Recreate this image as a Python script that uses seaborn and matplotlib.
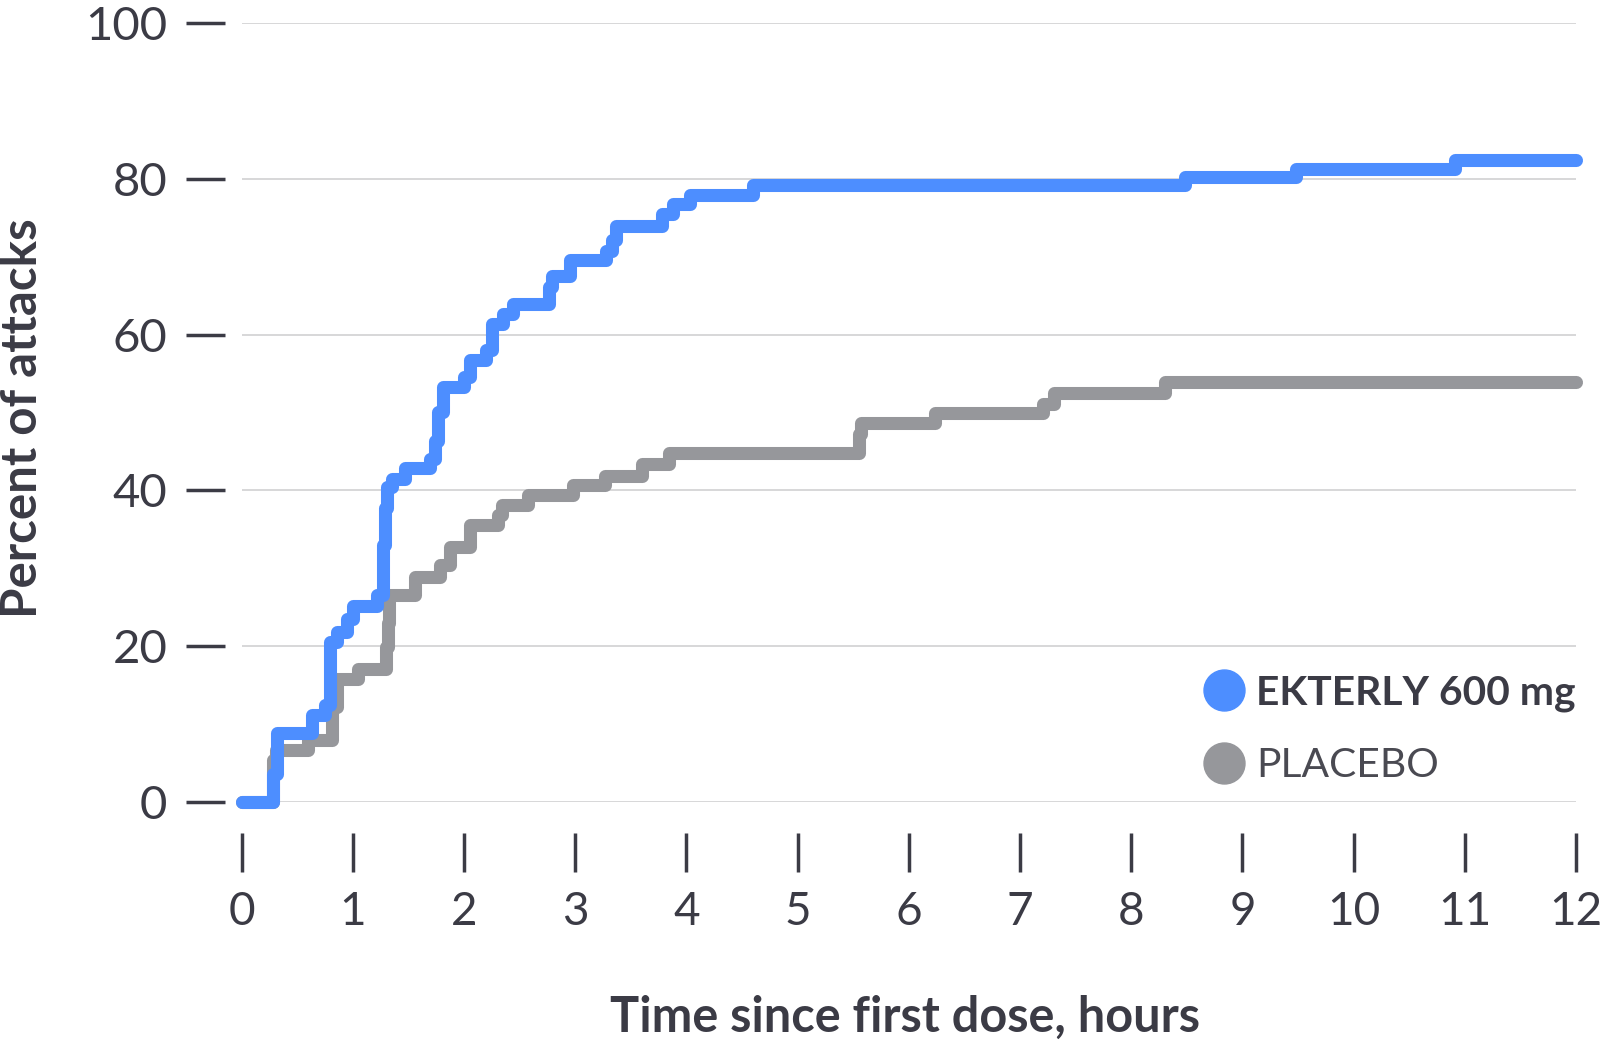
import numpy as np
import pandas as pd
import matplotlib
matplotlib.use("Agg")
import matplotlib.pyplot as plt
from matplotlib.lines import Line2D
import seaborn as sns

# Datos (paso: valor desde ese tiempo en adelante)
ekterly_t = [0, 0.285, 0.315, 0.63, 0.75, 0.795, 0.855, 0.945, 1.0, 1.215, 1.275, 1.29,
             1.305, 1.35, 1.47, 1.69, 1.735, 1.77, 1.81, 2.0, 2.05, 2.2, 2.25, 2.35, 2.44,
             2.76, 2.79, 2.95, 3.28, 3.33, 3.37, 3.78, 3.88, 4.03, 4.6, 8.48, 9.48, 10.91, 12]
ekterly_v = [0, 3.6, 8.8, 11.1, 12.4, 20.5, 21.8, 23.5, 25.2, 26.5, 33.0, 37.7,
             40.4, 41.5, 42.9, 44.0, 46.3, 50.1, 53.3, 54.6, 56.7, 58.0, 61.4, 62.7, 64.0,
             66.1, 67.6, 69.6, 70.8, 72.1, 74.0, 75.5, 76.8, 77.9, 79.2, 80.2, 81.3, 82.4, 82.4]

placebo_t = [0, 0.285, 0.31, 0.6, 0.81, 0.855, 1.05, 1.30, 1.315, 1.33, 1.56, 1.78, 1.87,
             2.05, 2.31, 2.34, 2.58, 2.98, 3.27, 3.6, 3.84, 5.55, 5.57, 6.24, 7.21, 7.31, 8.30, 12]
placebo_v = [0, 5.4, 6.6, 7.9, 12.2, 15.8, 17.1, 19.9, 23.0, 26.5, 28.9, 30.4, 32.7,
             35.5, 36.8, 38.1, 39.4, 40.7, 41.9, 43.4, 44.8, 47.3, 48.6, 49.9, 51.1, 52.5, 53.9, 53.9]

x_ticks = list(range(0, 13))
y_ticks = [0, 20, 40, 60, 80, 100]

BLUE = "#4d8eff"
GRAY = "#96979b"
TEXT = "#3b3b45"

df_ekterly = pd.DataFrame({"horas": ekterly_t, "pct": ekterly_v})
df_placebo = pd.DataFrame({"horas": placebo_t, "pct": placebo_v})

sns.set_theme(style="white")
plt.rcParams["font.family"] = ["Lato", "DejaVu Sans"]

fig = plt.figure(figsize=(16, 10.41), dpi=100)
ax = fig.add_axes([0.151, 0.2299, 0.834, 0.7477])

ax.set_ylim(0, 100)
ax.set_xlim(0, 12)
ax.set_yticks(y_ticks)
ax.set_xticks(x_ticks)
ax.yaxis.grid(True, color="#d4d4d6", linewidth=1.3)
ax.set_axisbelow(True)

line_kw = dict(drawstyle="steps-post", linewidth=9.4, solid_capstyle="round",
               solid_joinstyle="round", estimator=None, sort=False, legend=False)
sns.lineplot(data=df_placebo, x="horas", y="pct", color=GRAY, ax=ax, **line_kw)
sns.lineplot(data=df_ekterly, x="horas", y="pct", color=BLUE, ax=ax, **line_kw)
for ln in ax.lines:
    ln.set_clip_on(False)

for s in ["top", "right", "left", "bottom"]:
    ax.spines[s].set_visible(False)
ax.spines["left"].set_position(("outward", 12))
ax.spines["bottom"].set_position(("outward", 22.3))

ax.tick_params(axis="y", left=True, length=28, width=2.5, color=TEXT, pad=13.5,
               labelsize=34, labelcolor=TEXT)
ax.tick_params(axis="x", bottom=True, length=28, width=2.5, color=TEXT, pad=14,
               labelsize=33, labelcolor=TEXT)

ax.set_xlabel("Time since first dose, hours", fontsize=35, fontweight="bold",
              color=TEXT, va="center")
ax.xaxis.set_label_coords(0.497, -0.277)
ax.set_ylabel("Percent of attacks", fontsize=35.5, fontweight="bold",
              color=TEXT, va="center")
ax.yaxis.set_label_coords(-0.164, 0.493)

handles = [Line2D([], [], marker="o", linestyle="", markersize=29.5, color=BLUE),
           Line2D([], [], marker="o", linestyle="", markersize=29.5, color=GRAY)]
leg = ax.legend(handles, ["EKTERLY 600 mg", "PLACEBO"], loc="lower right",
                bbox_to_anchor=(1.0, 0.023), frameon=False, fontsize=29.3,
                handletextpad=0.25, labelspacing=0.86, borderpad=0,
                borderaxespad=0, handlelength=1.1)
txts = leg.get_texts()
txts[0].set_fontweight("bold")
txts[0].set_color(TEXT)
txts[1].set_fontweight("normal")
txts[1].set_color("#4a4a52")

fig.savefig("out.png", dpi=100)
